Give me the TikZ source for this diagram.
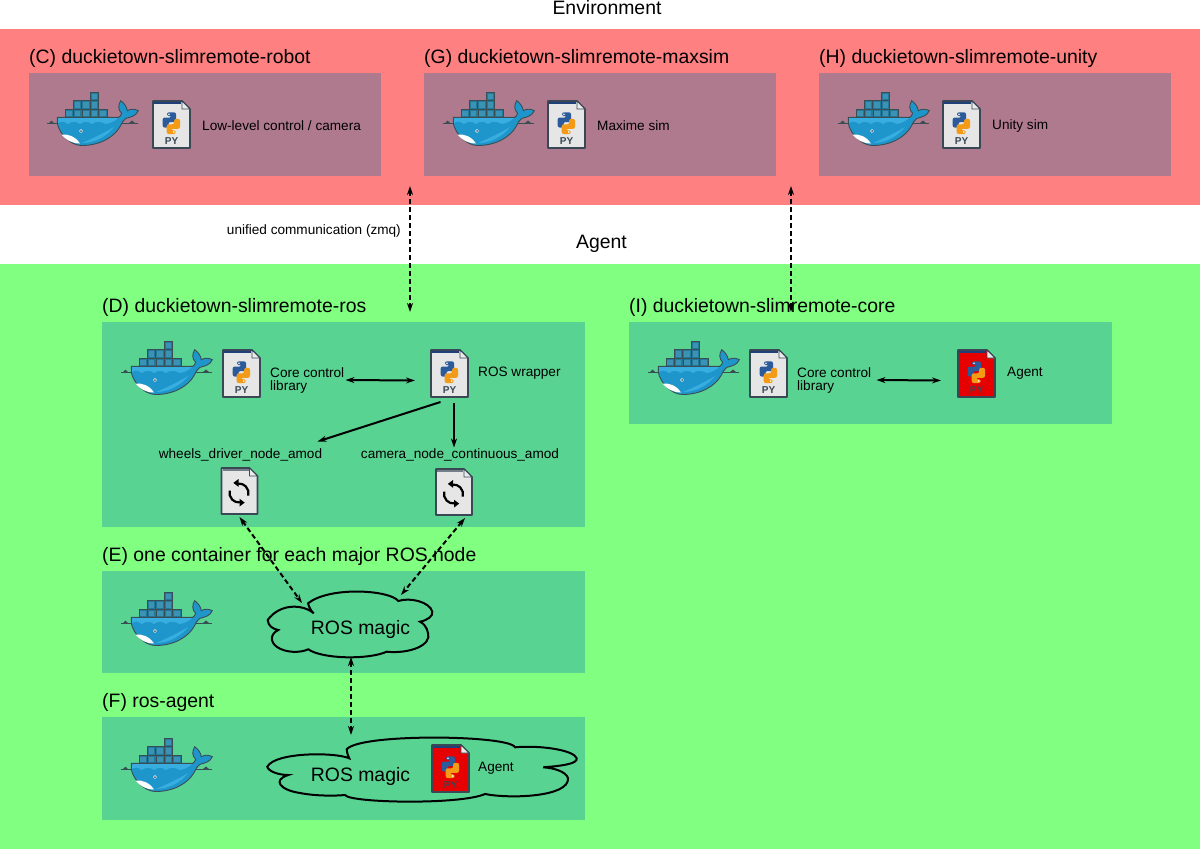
\documentclass[tikz,border=0pt]{standalone}
\usepackage{fontspec}
\setmainfont{Liberation Sans}
\usepackage{xcolor}
\definecolor{envRed}{HTML}{FF8080}
\definecolor{envPanel}{HTML}{B07A8E}
\definecolor{agentGreen}{HTML}{80FF80}
\definecolor{agentPanel}{HTML}{59D392}
\definecolor{fileEdge}{HTML}{3A4856}
\definecolor{filePaper}{HTML}{E6E6E6}
\definecolor{fileRed}{HTML}{E60000}
\definecolor{fileBand}{HTML}{1F3F78}
\definecolor{pyBlue}{HTML}{2B5B9B}
\definecolor{pyYellow}{HTML}{F39A16}
\definecolor{whaleBlue}{HTML}{1F96CB}
\definecolor{whaleLight}{HTML}{38AEE0}
\definecolor{whaleEdge}{HTML}{394D54}
\definecolor{crateTeal}{HTML}{24789A}
\definecolor{crateLight}{HTML}{3A93B4}
\usetikzlibrary{arrows.meta, positioning}

\tikzset{
  pics/dockerwhale/.style={code={
    \draw[whaleEdge, line width=0.7pt] (1,0) -- (92,0);
    \fill[whaleEdge] (3,0) -- (5.5,-2.5) -- (8,0) -- cycle;
    \fill[whaleEdge] (83,0) -- (86,-2.5) -- (89,0) -- cycle;
    \foreach \r/\c/\n in {-13.7/19/5, -22.3/27.3/3, -31/44.2/1} {
      \foreach \i in {1,...,\n} {
        \draw[whaleEdge, fill=crateTeal, line width=0.8pt]
          (\c+\i*8.45-8.45,\r) rectangle ++(8.45,8.5);
        \fill[crateLight] (\c+\i*8.45-7,\r+1.5) rectangle ++(5.5,5.5);
      }
    }
    \draw[whaleEdge, fill=whaleBlue, line width=0.9pt] (11.3,-5.7) -- (11.3,0.3)
      .. controls (13,10) and (24,22.5) .. (35.7,22.5)
      .. controls (54,22.5) and (68,14) .. (74,3.7)
      .. controls (76,0) and (77,-3) .. (80,-4.7)
      .. controls (85,-6) and (90,-7) .. (92.3,-12.3)
      .. controls (89,-14) and (85,-14.5) .. (81.3,-12.3)
      .. controls (81,-16) and (78,-20) .. (74.7,-22.3)
      .. controls (72,-18) and (72,-13) .. (75.7,-9.7)
      .. controls (75,-7.5) and (74,-6.5) .. (72.7,-5.7) -- cycle;
    \fill[whaleLight] (12,-5) -- (72,-5) .. controls (70,-3) and (66,0) .. (60,1)
      .. controls (54,-2) and (50,-2) .. (46,1) .. controls (42,-2) and (38,-2) .. (34,1)
      .. controls (30,-2) and (26,-2) .. (22,1) .. controls (18,-2) and (15,-2) .. (12,0) -- cycle;
    \fill[whaleLight] (36,20) .. controls (50,20) and (62,12) .. (68,4)
      .. controls (60,9) and (48,15) .. (36,20) -- cycle;
    \fill[white] (15.5,11.5) .. controls (22,11) and (29,13) .. (34,20.5)
      .. controls (26,20.5) and (20,17) .. (15.5,11.5) -- cycle;
    \fill[white] (35,8) circle (1.8);
    \fill[whaleEdge] (35,8) circle (1);
  }},
  pics/pyfile/.style={code={
    \draw[fileEdge, fill=#1, line width=1.7pt, line join=round]
      (0,0) -- (29,0) -- (37,8) -- (37,47) -- (0,47) -- cycle;
    \fill[fileBand] (1,1) rectangle (28,3.2);
    \draw[fileEdge, fill=white!85!gray, line width=0.8pt] (29,0) -- (29,8) -- (37,8) -- cycle;
    \fill[pyBlue, rounded corners=2pt] (14,11.3) -- (23,11.3) -- (23,21) -- (15.5,21)
      -- (15.5,26.5) -- (9.7,26.5) -- (9.7,16.5) -- (18.5,16.5) -- (18.5,15) -- (14,15) -- cycle;
    \fill[pyYellow, rounded corners=2pt] (22.7,33) -- (13.7,33) -- (13.7,23.3) -- (21.2,23.3)
      -- (21.2,17.8) -- (27,17.8) -- (27,27.8) -- (18.2,27.8) -- (18.2,29.3) -- (22.7,29.3) -- cycle;
    \fill[white] (16,13.3) circle (0.9);
    \fill[white] (20.7,31) circle (0.9);
    \node[pytext] (-py) at (18.5,39.6) {PY};
    \node[iconbox] (-box) at (18.5,23.5) {};
  }},
  pics/syncfile/.style={code={
    \draw[fileEdge, fill=filePaper, line width=1.7pt, line join=round]
      (0,0) -- (28,0) -- (36,8) -- (36,46) -- (0,46) -- cycle;
    \fill[fileEdge!70] (1,1) rectangle (27,3.2);
    \draw[fileEdge, fill=white!85!gray, line width=0.8pt] (28,0) -- (28,8) -- (36,8) -- cycle;
    \draw[black, line width=2.2pt] (26.7,27.5) arc[radius=9.5, start angle=15, end angle=-95];
    \fill[black] (11.8,14.9) -- (17,11) -- (17,18.8) -- cycle;
    \draw[black, line width=2.2pt] (8.3,22.5) arc[radius=9.5, start angle=195, end angle=85];
    \fill[black] (23.2,34.6) -- (18,30.7) -- (18,38.5) -- cycle;
    \node[iconbox, minimum width=36pt, minimum height=46pt] (-box) at (18,23) {};
  }}
}

\begin{document}
\begin{tikzpicture}[x=1pt, y=-1pt,
  band/.style={inner sep=0pt, outer sep=0pt, anchor=north west, minimum width=1200pt},
  panel/.style={inner sep=0pt, outer sep=0pt, anchor=north west},
  head/.style={inner sep=0pt, font=\fontsize{19.4}{21}\selectfont},
  note/.style={inner sep=0pt, font=\fontsize{13.6}{13}\selectfont, align=left},
  iconbox/.style={inner sep=0pt, outer sep=0pt, minimum width=37pt, minimum height=47pt},
  pytext/.style={inner sep=0pt, text=fileEdge, font=\fontsize{10}{10}\selectfont\bfseries},
  cloudline/.style={draw=black, line width=2pt},
  magic/.style={inner sep=0pt, font=\fontsize{19.4}{20}\selectfont},
  arrow/.style={{Stealth[length=9pt,width=6pt]}-{Stealth[length=9pt,width=6pt]}, line width=2pt},
  oneway/.style={-{Stealth[length=9pt,width=6pt]}, line width=2pt},
  link/.style={arrow, dash pattern=on 5pt off 3pt}
]
  \useasboundingbox (0,0) rectangle (1200,849);

  % Bands
  \node[band, fill=envRed, minimum height=176pt] (envBand) at (0,29) {};
  \node[band, fill=agentGreen, minimum height=585pt] (agentBand) at (0,264) {};
  \node[head] (envTitle) at (607,8) {Environment};
  \node[head] (agentTitle) at (601.5,244) {Agent};

  % Panels
  \node[panel, fill=envPanel, minimum width=352pt, minimum height=103pt] (panelC) at (29,73) {};
  \node[panel, fill=envPanel, minimum width=352pt, minimum height=103pt] (panelG) at (424,73) {};
  \node[panel, fill=envPanel, minimum width=352pt, minimum height=103pt] (panelH) at (819,73) {};
  \node[panel, fill=agentPanel, minimum width=483pt, minimum height=205pt] (panelD) at (102,322) {};
  \node[panel, fill=agentPanel, minimum width=483pt, minimum height=102pt] (panelE) at (102,571) {};
  \node[panel, fill=agentPanel, minimum width=483pt, minimum height=103pt] (panelF) at (102,717) {};
  \node[panel, fill=agentPanel, minimum width=483pt, minimum height=102pt] (panelI) at (629,322) {};

  % Titles
  \node[head, anchor=west] (titleC) at (29,58) {(C) duckietown-slimremote-robot};
  \node[head, anchor=west] (titleG) at (424,58) {(G) duckietown-slimremote-maxsim};
  \node[head, anchor=west] (titleH) at (819,58) {(H) duckietown-slimremote-unity};
  \node[head, anchor=west] (titleD) at (102,307) {(D) duckietown-slimremote-ros};
  \node[head, anchor=west] (titleI) at (629,307) {(I) duckietown-slimremote-core};
  \node[head, anchor=west] (titleE) at (102,556) {(E) one container for each major ROS node};
  \node[head, anchor=west] (titleF) at (102,702) {(F) ros-agent};

  % Whales
  \pic (whaleC) at (46,123) {dockerwhale};
  \pic (whaleG) at (442,123) {dockerwhale};
  \pic (whaleH) at (837,123) {dockerwhale};
  \pic (whaleD) at (120,372) {dockerwhale};
  \pic (whaleE) at (120,623) {dockerwhale};
  \pic (whaleF) at (120,769) {dockerwhale};
  \pic (whaleI) at (647,372) {dockerwhale};

  % Files
  \pic (fileC) at (153,101) {pyfile=filePaper};
  \pic (fileG) at (548,101) {pyfile=filePaper};
  \pic (fileH) at (943,101) {pyfile=filePaper};
  \pic (coreD) at (223,350) {pyfile=filePaper};
  \pic (wrapD) at (431,350) {pyfile=filePaper};
  \pic (coreI) at (750,350) {pyfile=filePaper};
  \pic (agentI) at (958,350) {pyfile=fileRed};
  \pic (agentF) at (432,745) {pyfile=fileRed};
  \pic (wheelsD) at (221.5,468) {syncfile};
  \pic (cameraD) at (436,469) {syncfile};

  % Notes
  \node[note, anchor=west] (noteC) at (202,125.5) {Low-level control / camera};
  \node[note, anchor=west] (noteG) at (597,125.5) {Maxime sim};
  \node[note, anchor=west] (noteH) at (992,125.5) {Unity sim};
  \node[note, anchor=west] (noteD) at (270,380) {Core control\\library};
  \node[note, anchor=west] (noteW) at (478,373.5) {ROS wrapper};
  \node[note, anchor=west] (noteI) at (797,380) {Core control\\library};
  \node[note, anchor=west] (noteA) at (1007,373) {Agent};
  \node[note, anchor=west] (noteF) at (478,768) {Agent};
  \node[note] (wheelsName) at (240.5,455) {wheels\_driver\_node\_amod};
  \node[note] (cameraName) at (460,455) {camera\_node\_continuous\_amod};
  \node[note, anchor=east] (zmqNote) at (401,230.5) {unified communication (zmq)};

  % Clouds
  \draw[cloudline] (313.7,613.3) .. controls (303,604) and (280,603) .. (267.7,620)
    .. controls (268,626) and (273,629) .. (278.3,630)
    .. controls (270,634) and (270,642) .. (277,647)
    .. controls (286,653) and (300,653) .. (308.3,649.3)
    .. controls (322,659) and (368,660) .. (386.7,651.7)
    .. controls (410,654) and (432,645) .. (428,633)
    .. controls (427,627) and (423,623) .. (420,621.7)
    .. controls (428,620) and (433,616) .. (432.3,611.7)
    .. controls (430,602) and (410,597) .. (398.3,601)
    .. controls (390,590) and (330,586) .. (308,603.3)
    .. controls (309,607) and (311,611) .. (313.7,613.3) -- cycle;
  \draw[cloudline] (349.3,758.3) .. controls (335,752) and (275,752) .. (267.3,766.7)
    .. controls (268,771) and (278,775) .. (288.3,775)
    .. controls (272,780) and (280,790) .. (300,793)
    .. controls (315,796) and (335,796) .. (345,795)
    .. controls (350,803) and (460,805) .. (485,794)
    .. controls (510,799) and (570,797) .. (568,778)
    .. controls (566,772) and (555,768) .. (543.3,767.3)
    .. controls (560,766) and (578,764) .. (576.7,758.3)
    .. controls (574,750) and (540,745) .. (515,747.3)
    .. controls (510,735) and (360,733) .. (346.7,749.3)
    .. controls (347,753) and (348,756) .. (349.3,758.3) -- cycle;
  \node[magic] (rosA) at (360.5,629) {ROS magic};
  \node[magic] (rosB) at (360.5,776) {ROS magic};

  % Free ends
  \coordinate (envLeft) at (410,186);
  \coordinate (agentLeft) at (410,312);
  \coordinate (envRight) at (791,186);
  \coordinate (agentRight) at (791,312);
  \coordinate (cloudNW) at (302,603);
  \coordinate (cloudNE) at (401,595);
  \coordinate (cloudS) at (351,657);
  \coordinate (cloudTop) at (351,735);

  % Arrows
  \draw[link] (envLeft) -- (agentLeft);
  \draw[link] (envRight) -- (agentRight);
  \draw[arrow] ([xshift=1pt]noteD.east) -- ([xshift=-16pt,yshift=-7pt]wrapD-box.west);
  \draw[arrow] ([xshift=5pt]noteI.east) -- ([xshift=-17pt,yshift=-7pt]agentI-box.west);
  \draw[oneway] ([xshift=-9pt,yshift=-5pt]wrapD-box.south) -- ([xshift=77pt,yshift=7pt]wheelsName.north);
  \draw[oneway] ([xshift=4.5pt,yshift=-6pt]wrapD-box.south) -- ([xshift=-6pt,yshift=1pt]cameraName.north);
  \draw[link] ([xshift=0pt,yshift=-3pt]wheelsD-box.south) -- (cloudNW);
  \draw[link] ([xshift=11pt,yshift=-3pt]cameraD-box.south) -- (cloudNE);
  \draw[link] (cloudS) -- (cloudTop);
\end{tikzpicture}
\end{document}
